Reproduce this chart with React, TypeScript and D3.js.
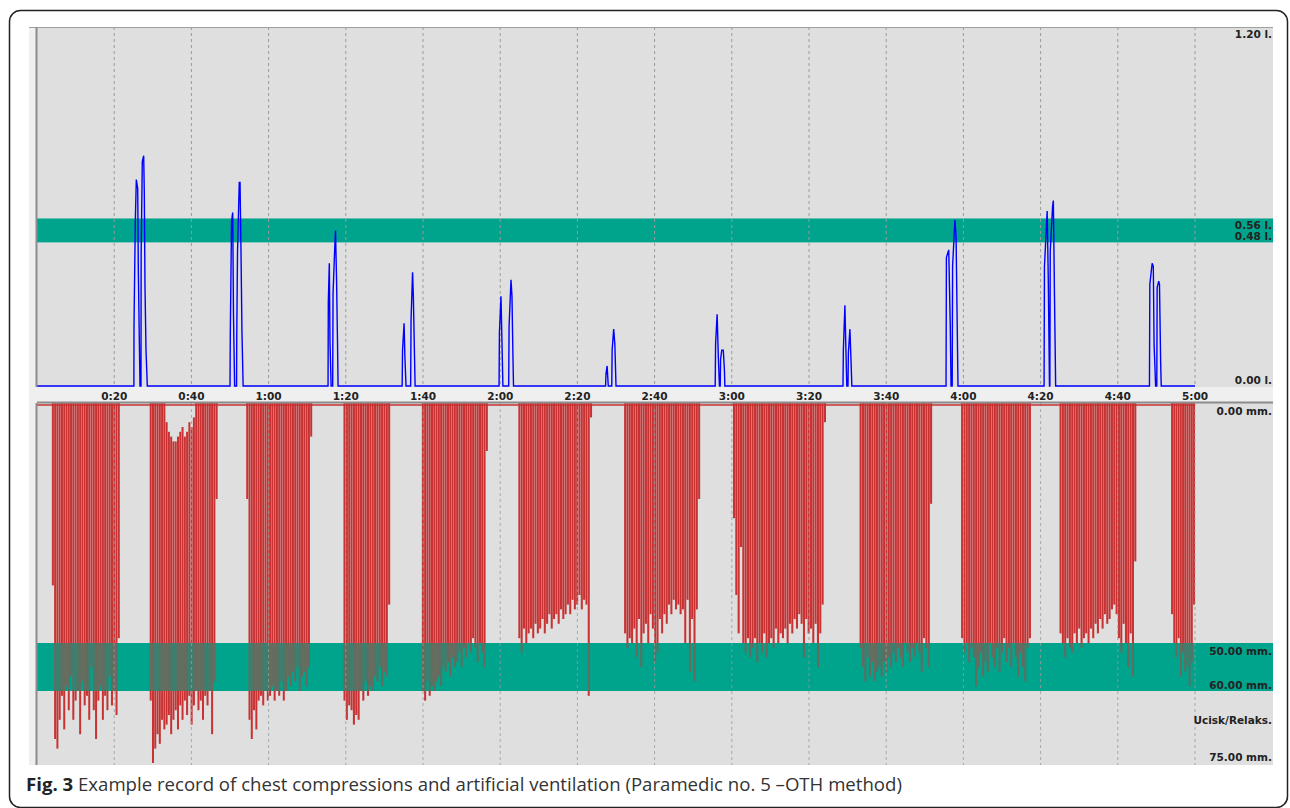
import React from 'react';
import * as d3 from 'd3';

// time axis (seconds) and its labels
const tickSeconds = [20, 40, 60, 80, 100, 120, 140, 160, 180, 200, 220, 240, 260, 280, 300];
const tickLabels = ['0:20', '0:40', '1:00', '1:20', '1:40', '2:00', '2:20', '2:40', '3:00', '3:20', '3:40', '4:00', '4:20', '4:40', '5:00'];

// ventilation volume (litres): target band and right-hand labels
const volumeBand = [0.48, 0.56];
const volumeLabelValues = [1.2, 0.56, 0.48, 0];
const volumeLabels = ['1.20 l.', '0.56 l.', '0.48 l.', '0.00 l.'];

// compression depth (mm): target band and right-hand labels
const depthBand = [50, 60];
const depthLabelValues = [0, 50, 60, 75];
const depthLabels = ['0.00 mm.', '50.00 mm.', '60.00 mm.', '75.00 mm.'];

// ventilations: [seconds, litres]
const vent1 = [[25.1, 0], [25.13, 0.2], [25.47, 0.55], [25.73, 0.69], [26.09, 0.66], [26.24, 0.4], [26.5, 0.16], [26.68, 0], [26.94, 0], [26.98, 0.44], [27.28, 0.75], [27.64, 0.77], [27.8, 0.645], [27.98, 0.33], [28.24, 0.12], [28.58, 0]];
const vent2 = [[50.0, 0], [50.08, 0.18], [50.4, 0.55], [50.7, 0.58], [50.9, 0.24], [51.2, 0], [51.7, 0], [51.75, 0.17], [51.95, 0.45], [52.4, 0.68], [52.6, 0.68], [52.85, 0.45], [53.1, 0.18], [53.4, 0]];
const vent3 = [[75.4, 0], [75.47, 0.28], [75.73, 0.41], [75.9, 0.15], [76.2, 0], [76.6, 0], [76.7, 0.31], [77.1, 0.45], [77.33, 0.52], [77.6, 0.36], [77.85, 0.15], [78.0, 0]];
const vent4 = [[94.6, 0], [94.7, 0.12], [95.1, 0.21], [95.3, 0.1], [95.6, 0], [96.8, 0], [96.9, 0.22], [97.3, 0.38], [97.5, 0.3], [97.8, 0.1], [97.95, 0]];
const vent5 = [[119.7, 0], [119.8, 0.18], [120.2, 0.3], [120.45, 0.15], [120.7, 0], [122.2, 0], [122.3, 0.2], [122.8, 0.355], [123.05, 0.3], [123.3, 0.1], [123.45, 0]];
const vent6 = [[147.3, 0], [147.4, 0.04], [147.7, 0.067], [148.0, 0], [148.9, 0], [149.0, 0.12], [149.4, 0.19], [149.7, 0.14], [150.0, 0]];
const vent7 = [[175.7, 0], [175.8, 0.14], [176.2, 0.24], [176.5, 0.1], [176.8, 0], [177.0, 0], [177.1, 0.09], [177.4, 0.12], [177.8, 0.12], [178.1, 0.05], [178.2, 0]];
const vent8 = [[208.8, 0], [208.9, 0.12], [209.3, 0.27], [209.6, 0.1], [209.8, 0], [210.1, 0], [210.2, 0.11], [210.6, 0.19], [210.9, 0.08], [211.1, 0]];
const vent9 = [[235.5, 0], [235.6, 0.43], [236.2, 0.455], [236.6, 0.2], [236.8, 0], [237.1, 0], [237.2, 0.4], [237.8, 0.555], [238.1, 0.5], [238.4, 0.2], [238.6, 0]];
const vent10 = [[260.9, 0], [261.0, 0.4], [261.7, 0.585], [262.0, 0.35], [262.3, 0], [262.4, 0], [262.5, 0.45], [263.1, 0.6], [263.3, 0.62], [263.6, 0.3], [263.9, 0]];
const vent11 = [[288.2, 0], [288.3, 0.34], [288.9, 0.41], [289.2, 0.4], [289.4, 0.14], [289.8, 0], [290.1, 0], [290.2, 0.33], [290.6, 0.35], [290.8, 0.34], [291.1, 0.08], [291.25, 0]];

// compression series: start / end (seconds) and depth of each compression (mm)
const cycleStart = [3.85, 29.2, 54.2, 79.4, 99.7, 124.7, 152.1, 180.3, 213.1, 239.4, 264.9, 293.8];
const cycleEnd = [21.45, 46.8, 71.3, 91.5, 116.8, 143.8, 171.8, 204.4, 231.9, 257.5, 284.8, 300];
const depths1 = [38, 70, 72, 66, 61, 68, 59, 64, 57, 66, 62, 60, 69, 58, 63, 61, 66, 55, 64, 70, 62, 59, 66, 61, 64, 57, 63, 60, 65, 49];
const depths2 = [62, 75, 72, 69, 71, 66, 68, 67, 65, 69, 66, 64, 68, 63, 66, 62, 65, 61, 67, 63, 60, 64, 62, 66, 61, 63, 60, 69, 58, 20];
const depths3 = [20, 66, 70, 64, 68, 62, 61, 63, 60, 62, 61, 59, 62, 60, 61, 58, 62, 60, 57, 59, 56, 58, 55, 60, 57, 56, 59, 55, 7];
const depths4 = [62, 66, 63, 64, 67, 65, 66, 60, 62, 58, 61, 59, 60, 57, 58, 55, 59, 56, 57, 42];
const depths5 = [60, 62, 58, 61, 59, 60, 58, 57, 59, 55, 56, 54, 57, 53, 55, 54, 52, 55, 51, 53, 50, 52, 49, 51, 54, 50, 52, 55, 10];
const depths6 = [49, 52, 47, 50, 48, 47, 49, 46, 48, 47, 45, 48, 46, 44, 47, 45, 44, 46, 43, 45, 44, 42, 44, 41, 43, 42, 40, 43, 41, 42, 61, 3];
const depths7 = [48, 51, 49, 50, 47, 53, 45, 55, 48, 46, 50, 44, 47, 54, 52, 45, 48, 44, 46, 42, 44, 41, 43, 42, 44, 43, 50, 41, 56, 45, 58, 43, 20];
const depths8 = [24, 40, 48, 30, 50, 52, 49, 53, 51, 49, 54, 50, 52, 48, 53, 50, 49, 51, 47, 50, 48, 49, 47, 50, 46, 48, 45, 47, 44, 46, 53, 45, 48, 47, 50, 46, 55, 48, 42, 4];
const depths9 = [51, 55, 58, 53, 57, 54, 58, 56, 55, 57, 54, 56, 53, 55, 52, 54, 51, 53, 55, 50, 52, 54, 51, 53, 50, 52, 56, 49, 51, 55, 21];
const depths10 = [49, 52, 50, 54, 51, 53, 59, 55, 52, 57, 54, 56, 50, 53, 55, 51, 56, 52, 49, 54, 51, 55, 50, 53, 57, 52, 55, 58, 51, 49];
const depths11 = [48, 50, 53, 49, 51, 52, 48, 50, 47, 51, 49, 48, 50, 47, 49, 46, 48, 45, 47, 44, 46, 45, 43, 42, 44, 49, 52, 46, 50, 55, 48, 57, 33];
const depths12 = [44, 50, 53, 49, 57, 52, 56, 55, 59, 54, 42];
// incomplete release (mm) during the second series
const release2 = [0, 0, 0, 0, 0, 0, 0, 4, 6, 7, 8, 8, 7, 6, 5, 7, 6, 4, 5, 3, 0, 0, 0, 0, 0, 0, 0, 0, 0, 0];

const ventilations = [vent1, vent2, vent3, vent4, vent5, vent6, vent7, vent8, vent9, vent10, vent11];
const cycleDepths = [depths1, depths2, depths3, depths4, depths5, depths6, depths7, depths8, depths9, depths10, depths11, depths12];
const cycleRelease = [null, release2, null, null, null, null, null, null, null, null, null, null];

const TEAL = '#00a48c';
const RED = '#c83232';
const GRAY = '#dfdfdf';
const LABEL_FONT = '"DejaVu Sans", Verdana, sans-serif';

export default function App() {
  const width = 1290;
  const height = 808;
  const left = 37;
  const panelRight = 1273;

  const x = d3.scaleLinear().domain([0, 300]).range([left, 1195]);
  const yV = d3.scaleLinear().domain([0, 1.2]).range([386, 27]);
  const yD = d3.scaleLinear().domain([0, 75]).range([403, 763]);

  const trace = [[0, 0], ...ventilations.flat(), [300, 0]];
  const line = d3.line<number[]>().x(d => x(d[0])).y(d => yV(d[1]));

  const bars = cycleDepths.flatMap((depths, c) => {
    const band = d3.scaleBand<number>()
      .domain(d3.range(depths.length))
      .range([x(cycleStart[c]), x(cycleEnd[c])])
      .paddingInner(0.12);
    const rel = cycleRelease[c];
    return depths.map((d, i) => {
      const top = yD(rel ? rel[i] : 0);
      return { key: `${c}-${i}`, x: band(i) as number, w: band.bandwidth(), y: top, h: yD(d) - top };
    });
  });

  const topPanel = { y0: 27, y1: 387 };
  const botPanel = { y0: 403, y1: 765 };

  return (
    <svg width={width} height={height} style={{ position: 'absolute', left: 0, top: 0, background: '#fff' }}>
      <defs>
        <clipPath id="depth-band">
          <rect x={left} y={yD(depthBand[0])} width={panelRight - left} height={yD(depthBand[1]) - yD(depthBand[0])} />
        </clipPath>
      </defs>

      {/* outer frame */}
      <rect x={9.5} y={10.5} width={1278} height={797} rx={11} fill="none" stroke="#222" strokeWidth={1.5} />

      {/* window background */}
      <rect x={29} y={27} width={panelRight - 29} height={botPanel.y1 - 27} fill="#efefef" />

      {/* ---------- ventilation panel ---------- */}
      <rect x={left} y={topPanel.y0} width={panelRight - left} height={topPanel.y1 - topPanel.y0} fill={GRAY} />
      <rect x={left} y={yV(volumeBand[1])} width={panelRight - left} height={yV(volumeBand[0]) - yV(volumeBand[1])} fill={TEAL} />
      {tickSeconds.map(t => (
        <line key={`gt${t}`} x1={x(t)} x2={x(t)} y1={topPanel.y0} y2={topPanel.y1} stroke="#9a9a9a" strokeDasharray="3,3" />
      ))}
      <path d={line(trace) ?? ''} fill="none" stroke="#0000ff" strokeWidth={1.4} strokeLinejoin="miter" />
      <line x1={29} x2={panelRight} y1={topPanel.y0 + 0.5} y2={topPanel.y0 + 0.5} stroke="#a0a0a0" />
      <line x1={left - 0.5} x2={left - 0.5} y1={topPanel.y0} y2={topPanel.y1} stroke="#8c8c8c" strokeWidth={2} />
      {volumeLabels.map((s, i) => (
        <text key={s} x={1272} y={yV(volumeLabelValues[i]) + (i < 2 ? 10.5 : -2)} textAnchor="end"
          fontFamily={LABEL_FONT} fontWeight="bold" fontSize={10.5} fill="#222">{s}</text>
      ))}

      {/* time labels */}
      {tickSeconds.map((t, i) => (
        <text key={`tl${t}`} x={x(t)} y={400} textAnchor="middle" fontFamily={LABEL_FONT} fontWeight="bold" fontSize={10.5} fill="#222">
          {tickLabels[i]}
        </text>
      ))}

      {/* ---------- compression panel ---------- */}
      <rect x={left} y={botPanel.y0} width={panelRight - left} height={botPanel.y1 - botPanel.y0} fill={GRAY} />
      <rect x={left} y={yD(depthBand[0])} width={panelRight - left} height={yD(depthBand[1]) - yD(depthBand[0])} fill={TEAL} />
      <g>
        {bars.map(b => (
          <rect key={b.key} x={b.x} y={b.y} width={b.w} height={Math.max(0, b.h)} fill={RED} />
        ))}
      </g>
      <rect x={left} y={yD(depthBand[0])} width={panelRight - left} height={yD(depthBand[1]) - yD(depthBand[0])}
        fill={TEAL} opacity={0.5} clipPath="url(#depth-band)" />
      {tickSeconds.map(t => (
        <line key={`gb${t}`} x1={x(t)} x2={x(t)} y1={botPanel.y0} y2={botPanel.y1} stroke="#9a9a9a" strokeOpacity={0.8} strokeDasharray="3,3" />
      ))}
      <line x1={left} x2={x(300)} y1={405} y2={405} stroke={RED} strokeWidth={1.5} />
      <line x1={left} x2={panelRight} y1={botPanel.y0 - 0.5} y2={botPanel.y0 - 0.5} stroke="#8c8c8c" strokeWidth={2} />
      <line x1={left - 0.5} x2={left - 0.5} y1={botPanel.y0} y2={botPanel.y1} stroke="#8c8c8c" strokeWidth={2} />
      {depthLabels.map((s, i) => (
        <text key={s} x={1272} y={yD(depthLabelValues[i]) + (i < 2 ? 12 : -2)} textAnchor="end"
          fontFamily={LABEL_FONT} fontWeight="bold" fontSize={10.5} fill="#222">{s}</text>
      ))}
      <text x={1272} y={(yD(depthLabelValues[2]) + yD(depthLabelValues[3])) / 2 - 3} textAnchor="end"
        fontFamily={LABEL_FONT} fontWeight="bold" fontSize={10.5} fill="#222">Ucisk/Relaks.</text>

      {/* caption */}
      <text x={26} y={791} fontFamily='"Open Sans", sans-serif' fontSize={18.6} fill="#333">
        <tspan fontWeight="bold" fill="#222">Fig. 3</tspan>
        <tspan> Example record of chest compressions and artificial ventilation (Paramedic no. 5 –OTH method)</tspan>
      </text>
    </svg>
  );
}
